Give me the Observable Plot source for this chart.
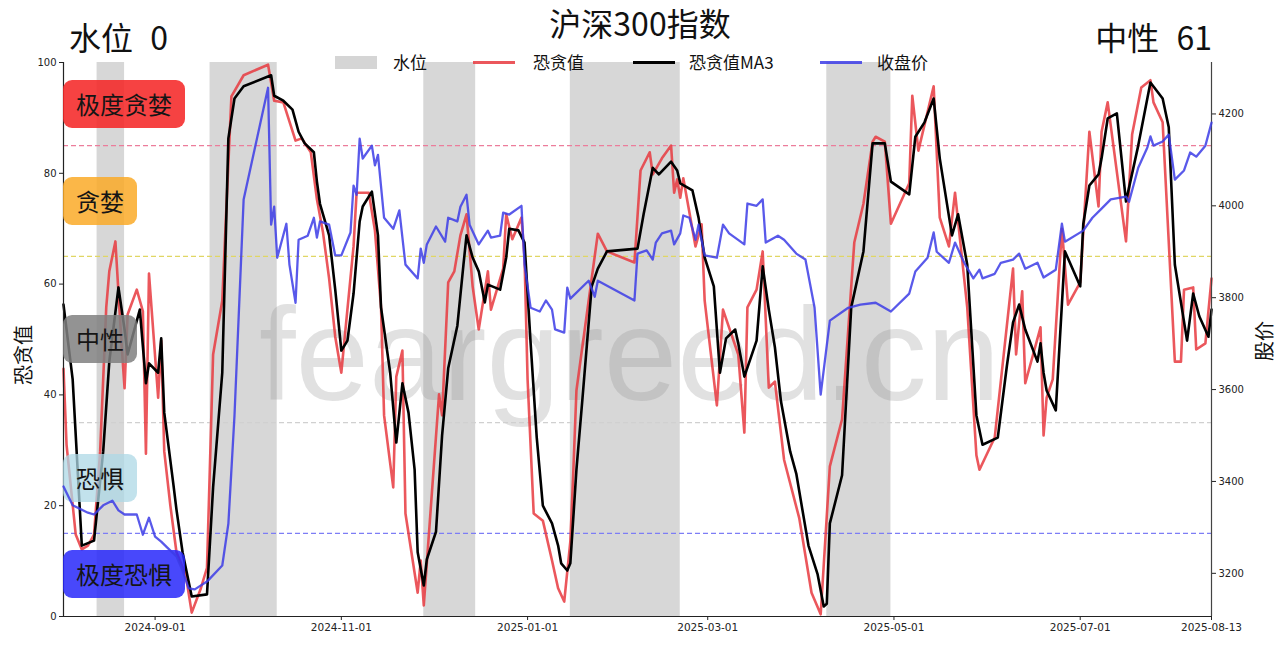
<!DOCTYPE html>
<html><head><meta charset="utf-8">
<script src="https://cdn.jsdelivr.net/npm/d3@7"></script>
<script src="https://cdn.jsdelivr.net/npm/@observablehq/plot@0.6"></script>
<style>
body{margin:0;background:#fff;font-family:"Noto Sans CJK SC","Noto Sans",sans-serif;}
#wrap{position:relative;width:1280px;height:645px;overflow:hidden;background:#fff;}
#wrap svg{position:absolute;left:0;top:0;}
.t{position:absolute;white-space:pre;line-height:1.15;color:#111;}
.zone{position:absolute;white-space:nowrap;font-size:24px;line-height:24px;padding:12px 13px;border-radius:9px;color:#151515;transform:translateY(-50%);}
.sw{position:absolute;}
</style></head><body><div id="wrap"></div>
<script>
// ---------------- data ----------------
const fgDates = ["2024-08-02","2024-08-03","2024-08-06","2024-08-08","2024-08-10","2024-08-12","2024-08-14","2024-08-16","2024-08-17","2024-08-19","2024-08-21","2024-08-22","2024-08-23","2024-08-26","2024-08-28","2024-08-29","2024-08-30","2024-09-02","2024-09-03","2024-09-04","2024-09-06","2024-09-08","2024-09-11","2024-09-13","2024-09-16","2024-09-18","2024-09-20","2024-09-23","2024-09-25","2024-09-26","2024-09-30","2024-10-08","2024-10-09","2024-10-10","2024-10-13","2024-10-17","2024-10-19","2024-10-22","2024-10-24","2024-10-26","2024-10-28","2024-10-30","2024-11-01","2024-11-02","2024-11-05","2024-11-06","2024-11-10","2024-11-12","2024-11-14","2024-11-15","2024-11-18","2024-11-19","2024-11-21","2024-11-22","2024-11-26","2024-11-27","2024-11-28","2024-11-30","2024-12-03","2024-12-04","2024-12-06","2024-12-08","2024-12-10","2024-12-12","2024-12-14","2024-12-16","2024-12-19","2024-12-20","2024-12-24","2024-12-25","2024-12-27","2024-12-30","2024-12-31","2025-01-01","2025-01-03","2025-01-06","2025-01-09","2025-01-11","2025-01-13","2025-01-15","2025-01-16","2025-01-17","2025-01-21","2025-01-24","2025-01-27","2025-02-05","2025-02-07","2025-02-10","2025-02-11","2025-02-14","2025-02-17","2025-02-18","2025-02-19","2025-02-20","2025-02-21","2025-02-25","2025-02-27","2025-02-28","2025-03-04","2025-03-06","2025-03-11","2025-03-13","2025-03-14","2025-03-17","2025-03-19","2025-03-21","2025-03-23","2025-03-26","2025-03-31","2025-04-04","2025-04-07","2025-04-10","2025-04-14","2025-04-18","2025-04-21","2025-04-24","2025-04-25","2025-04-28","2025-04-30","2025-05-06","2025-05-07","2025-05-09","2025-05-14","2025-05-16","2025-05-19","2025-05-21","2025-05-25","2025-05-28","2025-05-29","2025-06-03","2025-06-09","2025-06-10","2025-06-12","2025-06-13","2025-06-18","2025-06-19","2025-06-20","2025-06-22","2025-06-25","2025-06-27","2025-07-01","2025-07-04","2025-07-07","2025-07-08","2025-07-10","2025-07-16","2025-07-18","2025-07-21","2025-07-24","2025-07-25","2025-07-28","2025-08-01","2025-08-03","2025-08-04","2025-08-07","2025-08-08","2025-08-11","2025-08-13"];
const fgValues = [44.7,31.0,14.8,12.1,12.8,14.8,29.8,55.8,62.3,67.7,49.3,41.2,54.5,59.0,55.1,29.4,61.9,39.5,49.8,29.8,20.0,11.6,7.6,0.7,5.1,8.8,47.3,57.0,81.8,93.9,97.7,99.6,96.4,93.1,92.8,85.9,86.3,83.8,75.3,69.3,61.0,50.5,44.0,49.8,66.8,76.5,76.5,69.7,55.8,36.3,23.3,43.3,48.0,18.6,4.3,10.1,2.0,17.3,40.1,36.3,60.3,62.3,68.8,72.6,59.6,51.8,62.3,55.4,62.8,72.6,68.1,72.0,64.8,42.8,18.6,17.3,10.1,5.1,2.7,13.5,26.5,40.8,57.0,69.1,65.9,63.9,80.5,83.8,79.8,82.7,85.0,76.5,78.9,75.6,79.1,66.8,70.8,57.0,38.1,55.4,47.3,33.2,55.8,59.0,65.9,41.3,42.4,28.3,17.7,4.3,0.4,27.1,35.6,67.5,74.5,85.7,86.6,85.7,70.9,78.2,94.0,84.1,95.7,72.0,66.8,76.5,55.8,29.1,26.5,32.3,62.8,47.3,58.7,42.1,52.2,32.7,39.5,42.8,70.0,56.3,60.3,87.5,74.0,87.5,92.8,67.7,87.0,95.5,96.8,92.8,89.2,46.0,46.0,59.0,59.4,48.2,49.3,61.0];

const maDates = ["2024-08-02","2024-08-05","2024-08-08","2024-08-12","2024-08-15","2024-08-17","2024-08-20","2024-08-22","2024-08-23","2024-08-27","2024-08-29","2024-08-30","2024-09-02","2024-09-03","2024-09-04","2024-09-07","2024-09-08","2024-09-10","2024-09-13","2024-09-18","2024-09-20","2024-09-23","2024-09-25","2024-09-27","2024-09-30","2024-10-09","2024-10-10","2024-10-13","2024-10-16","2024-10-18","2024-10-20","2024-10-23","2024-10-24","2024-10-25","2024-10-28","2024-10-30","2024-11-01","2024-11-03","2024-11-05","2024-11-07","2024-11-08","2024-11-11","2024-11-13","2024-11-14","2024-11-17","2024-11-19","2024-11-21","2024-11-23","2024-11-25","2024-11-26","2024-11-28","2024-11-29","2024-12-02","2024-12-04","2024-12-06","2024-12-09","2024-12-11","2024-12-12","2024-12-14","2024-12-16","2024-12-18","2024-12-19","2024-12-23","2024-12-25","2024-12-26","2024-12-29","2024-12-31","2025-01-02","2025-01-04","2025-01-06","2025-01-09","2025-01-11","2025-01-12","2025-01-14","2025-01-15","2025-01-17","2025-01-19","2025-01-22","2025-01-24","2025-01-27","2025-02-06","2025-02-08","2025-02-11","2025-02-13","2025-02-17","2025-02-19","2025-02-20","2025-02-24","2025-02-26","2025-02-28","2025-03-03","2025-03-05","2025-03-07","2025-03-10","2025-03-11","2025-03-13","2025-03-17","2025-03-19","2025-03-21","2025-03-23","2025-03-25","2025-03-28","2025-03-30","2025-04-03","2025-04-06","2025-04-08","2025-04-09","2025-04-10","2025-04-14","2025-04-17","2025-04-21","2025-04-24","2025-04-28","2025-04-30","2025-05-06","2025-05-08","2025-05-11","2025-05-14","2025-05-16","2025-05-20","2025-05-22","2025-05-25","2025-05-28","2025-05-30","2025-06-04","2025-06-07","2025-06-09","2025-06-11","2025-06-13","2025-06-17","2025-06-18","2025-06-19","2025-06-20","2025-06-23","2025-06-26","2025-07-01","2025-07-02","2025-07-04","2025-07-07","2025-07-08","2025-07-10","2025-07-13","2025-07-16","2025-07-20","2025-07-24","2025-07-28","2025-07-30","2025-08-01","2025-08-05","2025-08-07","2025-08-09","2025-08-12","2025-08-13"];
const maValues = [56.3,42.8,12.8,13.7,29.8,46.0,59.4,51.8,47.3,55.4,42.1,45.7,44.0,50.2,36.8,23.8,19.3,11.6,3.6,4.0,23.3,44.0,86.3,93.5,95.7,97.7,94.0,93.1,91.5,87.5,85.4,83.8,78.5,74.5,68.8,59.0,48.0,49.8,58.3,71.3,74.0,76.7,68.8,55.8,44.0,31.4,42.1,36.8,26.5,11.6,5.6,10.3,15.3,32.7,44.8,52.5,63.5,68.8,64.8,62.3,56.7,59.9,59.0,64.8,70.0,69.7,67.5,49.3,32.3,20.0,16.8,12.8,9.6,8.3,9.6,26.5,39.5,59.6,62.8,65.9,66.4,72.6,81.0,79.8,82.1,80.5,78.2,76.9,72.0,64.8,59.6,44.0,50.2,51.8,49.3,43.3,49.8,63.2,55.4,48.6,38.8,29.8,25.8,12.8,7.6,1.8,2.3,16.8,25.5,55.8,65.9,85.4,85.4,78.5,76.2,86.6,89.2,93.5,82.7,68.8,72.6,63.5,36.3,31.0,32.3,45.3,53.1,56.3,51.8,46.0,49.3,44.0,40.8,37.2,65.9,59.6,70.8,77.8,79.8,82.7,89.9,90.8,74.9,85.0,96.4,93.5,88.3,63.5,49.8,58.3,54.2,50.5,55.4];

const closeDates = ["2024-08-02","2024-08-05","2024-08-10","2024-08-12","2024-08-15","2024-08-18","2024-08-20","2024-08-22","2024-08-26","2024-08-28","2024-08-30","2024-09-01","2024-09-03","2024-09-05","2024-09-08","2024-09-10","2024-09-12","2024-09-14","2024-09-18","2024-09-23","2024-09-25","2024-09-27","2024-09-30","2024-10-08","2024-10-09","2024-10-10","2024-10-11","2024-10-14","2024-10-15","2024-10-17","2024-10-18","2024-10-21","2024-10-23","2024-10-24","2024-10-25","2024-10-28","2024-10-30","2024-11-01","2024-11-04","2024-11-05","2024-11-06","2024-11-07","2024-11-08","2024-11-11","2024-11-12","2024-11-13","2024-11-15","2024-11-18","2024-11-20","2024-11-22","2024-11-26","2024-11-27","2024-11-28","2024-11-29","2024-12-02","2024-12-05","2024-12-06","2024-12-09","2024-12-10","2024-12-12","2024-12-13","2024-12-16","2024-12-19","2024-12-20","2024-12-23","2024-12-24","2024-12-26","2024-12-30","2024-12-31","2025-01-02","2025-01-05","2025-01-07","2025-01-09","2025-01-10","2025-01-13","2025-01-14","2025-01-15","2025-01-21","2025-01-23","2025-01-24","2025-02-05","2025-02-06","2025-02-09","2025-02-11","2025-02-12","2025-02-14","2025-02-17","2025-02-18","2025-02-20","2025-02-21","2025-02-23","2025-02-25","2025-02-26","2025-02-28","2025-03-04","2025-03-06","2025-03-08","2025-03-13","2025-03-14","2025-03-17","2025-03-19","2025-03-20","2025-03-24","2025-03-26","2025-03-30","2025-04-02","2025-04-05","2025-04-07","2025-04-10","2025-04-16","2025-04-20","2025-04-25","2025-04-30","2025-05-06","2025-05-08","2025-05-12","2025-05-14","2025-05-15","2025-05-19","2025-05-21","2025-05-24","2025-05-27","2025-05-29","2025-05-30","2025-06-03","2025-06-05","2025-06-09","2025-06-11","2025-06-13","2025-06-17","2025-06-19","2025-06-23","2025-06-25","2025-06-26","2025-07-02","2025-07-05","2025-07-08","2025-07-11","2025-07-16","2025-07-17","2025-07-20","2025-07-23","2025-07-24","2025-07-25","2025-07-28","2025-07-30","2025-08-01","2025-08-04","2025-08-06","2025-08-08","2025-08-11","2025-08-13"];
const closeValues = [3389,3348,3332,3328,3348,3358,3337,3328,3328,3284,3321,3280,3269,3256,3237,3206,3167,3165,3182,3217,3308,3543,4014,4257,3959,3998,3887,3961,3872,3789,3926,3935,3974,3931,3966,3959,3892,3892,3942,4044,4024,4146,4103,4131,4088,4111,3974,3950,3990,3872,3842,3907,3876,3916,3955,3922,3974,3966,3998,4024,3959,3916,3946,3931,3935,3985,3981,4000,3872,3778,3770,3794,3774,3731,3724,3822,3798,3837,3802,3837,3794,3896,3903,3883,3920,3940,3946,3916,3940,3979,3974,3926,3959,3892,3887,3959,3940,3916,4005,4000,4014,3920,3935,3926,3896,3883,3778,3589,3750,3778,3785,3789,3770,3809,3857,3887,3942,3900,3876,3920,3876,3842,3861,3842,3852,3876,3883,3896,3863,3876,3844,3861,3961,3922,3946,3974,3994,4014,4020,4009,4083,4127,4151,4131,4140,4155,4057,4077,4116,4107,4131,4181];

const bandStarts = ["2024-08-13","2024-09-19","2024-11-28","2025-01-15","2025-04-09"];
const bandEnds   = ["2024-08-22","2024-10-11","2024-12-15","2025-02-20","2025-04-30"];

const thresholds = [85, 65, 35, 15];
const zoneNames = ["极度贪婪","贪婪","中性","恐惧","极度恐惧"];
const zoneCenters = [92.5, 75, 50, 25, 7.5];
const fgTicks = [0, 20, 40, 60, 80, 100];
const priceTicks = [3200, 3400, 3600, 3800, 4000, 4200];
const xTickLabels = ["2024-09-01","2024-11-01","2025-01-01","2025-03-01","2025-05-01","2025-07-01","2025-08-13"];
const dateRange = ["2024-08-02","2025-08-13"];
const priceRange = [3106, 4312];
const titleText = "沪深300指数";
const levelText = "水位 0";
const stateText = "中性 61";
const legendNames = ["水位","恐贪值","恐贪值MA3","收盘价"];

// ---------------- styles ----------------
const thresholdColors = ["rgb(236,125,155)","rgb(224,214,100)","rgb(208,208,208)","rgb(125,125,245)"];
const zoneColors = ["rgba(245,40,40,0.88)","rgba(250,170,40,0.85)","rgba(128,128,128,0.85)","rgba(173,216,230,0.75)","rgba(40,40,250,0.85)"];
const RED = "#e8393f", BLUE = "#3c3ce6";

// ---------------- build ----------------
const parse = d3.utcParse("%Y-%m-%d");
const rows = (ds, vs) => ds.map((d, i) => ({date: parse(d), value: vs[i]}));
const fg = rows(fgDates, fgValues);
const ma = rows(maDates, maValues);
const close = rows(closeDates, closeValues);
const bands = bandStarts.map((s, i) => ({start: parse(s), end: parse(bandEnds[i])}));
const xDomain = dateRange.map(parse);
const xTicks = xTickLabels.map(parse);
const fmt = d3.utcFormat("%Y-%m-%d");

const W = 1280, H = 645;
const margins = {marginTop: 62, marginRight: 69, marginBottom: 29, marginLeft: 63};
const wrap = document.getElementById("wrap");

const chartA = Plot.plot({
  width: W, height: H, ...margins,
  x: {type: "utc", domain: xDomain},
  y: {domain: [0, 100]},
  style: {background: "transparent", fontFamily: "DejaVu Sans", fontSize: "10px", color: "#222"},
  marks: [
    Plot.rect(bands, {x1: "start", x2: "end", y1: 0, y2: 100, fill: "#d5d5d5", fillOpacity: 0.95}),
    Plot.text(["feargreed.cn"], {frameAnchor: "middle", text: d => d, fontSize: 132, fontFamily: "Liberation Sans", fill: "#8a8a8a", fillOpacity: 0.26, dx: -8, dy: 18}),
    ...thresholds.map((t, i) => Plot.ruleY([t], {y: d => d, stroke: thresholdColors[i], strokeOpacity: 1, strokeWidth: 1.1, strokeDasharray: "5,3"})),
    Plot.line(fg, {x: "date", y: "value", stroke: RED, strokeWidth: 2.6, strokeOpacity: 0.85}),
    Plot.line(ma, {x: "date", y: "value", stroke: "#000", strokeWidth: 2.6}),
    Plot.axisY({ticks: fgTicks, tickSize: 4, tickPadding: 3, label: null}),
    Plot.axisX({ticks: xTicks, tickFormat: fmt, tickSize: 4, tickPadding: 3, label: null, fontSize: 10.5}),
    Plot.ruleX([xDomain[0]], {stroke: "#222", strokeWidth: 1.2}),
    Plot.ruleX([xDomain[1]], {stroke: "#444", strokeWidth: 1.2}),
    Plot.ruleY([0], {stroke: "#222", strokeWidth: 1.2})
  ]
});

const chartB = Plot.plot({
  width: W, height: H, ...margins,
  x: {type: "utc", domain: xDomain, axis: null},
  y: {domain: priceRange},
  style: {background: "transparent", fontFamily: "DejaVu Sans", fontSize: "10px", color: "#222"},
  marks: [
    Plot.line(close, {x: "date", y: "value", stroke: BLUE, strokeWidth: 2.3, strokeOpacity: 0.85}),
    Plot.axisY({anchor: "right", ticks: priceTicks, tickFormat: d => String(d), tickSize: 4, tickPadding: 3, label: null})
  ]
});

wrap.appendChild(chartA);

// zone boxes positioned with chartA's scales
const xs = chartA.scale("x"), ys = chartA.scale("y");
zoneNames.forEach((name, i) => {
  const d = document.createElement("div");
  d.className = "zone";
  d.textContent = name;
  d.style.left = xs.apply(xDomain[0]) + "px";
  d.style.top = ys.apply(zoneCenters[i]) + "px";
  d.style.background = zoneColors[i];
  wrap.appendChild(d);
});

wrap.appendChild(chartB);

function addText(txt, css) {
  const d = document.createElement("div");
  d.className = "t";
  d.textContent = txt;
  Object.assign(d.style, css);
  wrap.appendChild(d);
  return d;
}
function addSwatch(css) {
  const d = document.createElement("div");
  d.className = "sw";
  Object.assign(d.style, css);
  wrap.appendChild(d);
}

addText(titleText, {left: "640px", top: "4px", fontSize: "32px", transform: "translateX(-50%)"});
addText(levelText, {left: "69px", top: "18px", fontSize: "32px", wordSpacing: "10px"});
addText(stateText, {right: "68px", top: "18px", fontSize: "32px", wordSpacing: "10px"});

// legend
addSwatch({left: "335px", top: "56px", width: "42px", height: "13px", background: "#d5d5d5"});
addText(legendNames[0], {left: "393px", top: "52px", fontSize: "17px"});
addSwatch({left: "473px", top: "61px", width: "42px", height: "3px", background: RED, opacity: 0.85});
addText(legendNames[1], {left: "533px", top: "52px", fontSize: "17px"});
addSwatch({left: "633px", top: "61px", width: "42px", height: "3px", background: "#000"});
addText(legendNames[2], {left: "689px", top: "52px", fontSize: "17px"});
addSwatch({left: "820px", top: "61px", width: "42px", height: "3px", background: BLUE, opacity: 0.85});
addText(legendNames[3], {left: "877px", top: "52px", fontSize: "17px"});

// axis titles
addText("恐贪值", {left: "22px", top: ys.apply(50) + 16 + "px", fontSize: "20px", transform: "translate(-50%,-50%) rotate(-90deg)"});
addText("股价", {left: "1263px", top: "341px", fontSize: "20px", transform: "translate(-50%,-50%) rotate(-90deg)"});
</script></body></html>
